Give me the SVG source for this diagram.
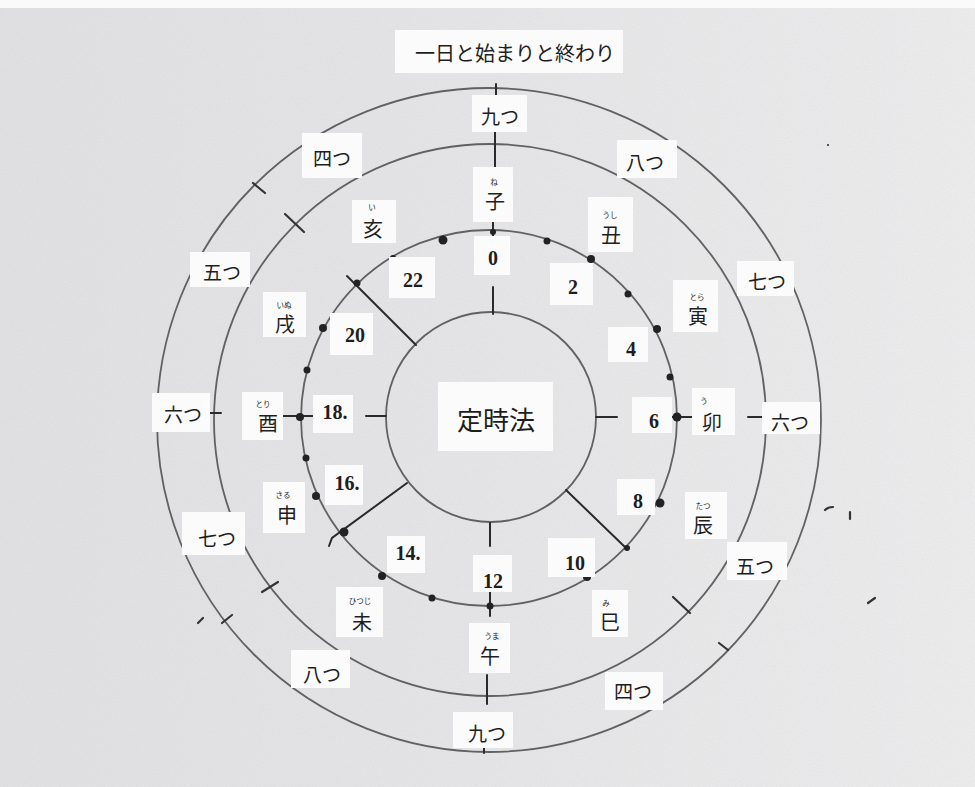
<svg xmlns="http://www.w3.org/2000/svg" width="975" height="787" viewBox="0 0 975 787">
<defs>
<linearGradient id="paper" x1="0" y1="0" x2="1" y2="0">
<stop offset="0" stop-color="#e3e3e5"/>
<stop offset="0.5" stop-color="#e8e8ea"/>
<stop offset="1" stop-color="#efeff0"/>
</linearGradient>
<filter id="noise" x="0" y="0" width="100%" height="100%">
<feTurbulence type="fractalNoise" baseFrequency="0.9" numOctaves="2" seed="3" result="t"/>
<feColorMatrix in="t" type="matrix" values="0 0 0 0 0.45  0 0 0 0 0.45  0 0 0 0 0.47  0 0 0 0.18 0"/>
</filter>
<style>
.ring{fill:none;stroke:#4a4a4c;stroke-width:1.8;opacity:0.85}
.ln{stroke:#2a2a2a;stroke-width:2;fill:none;stroke-linecap:round}
.tk{stroke:#333;stroke-width:2.2;fill:none;stroke-linecap:round}
.dot{fill:#222}
.box{fill:#fbfbfb}
.jp{font-family:"Noto Sans CJK JP","Noto Sans",sans-serif;font-size:19px;fill:#1e1e1e;text-anchor:middle;dominant-baseline:central}
.kj{font-family:"Noto Sans CJK JP","Noto Sans",sans-serif;font-size:20px;fill:#1e1e1e;text-anchor:middle;dominant-baseline:central}
.rb{font-family:"Noto Sans CJK JP","Noto Sans",sans-serif;font-size:7.5px;fill:#1e1e1e;text-anchor:middle;dominant-baseline:central}
.num{font-family:"Liberation Serif",serif;font-weight:bold;font-size:20px;fill:#1e1e1e;text-anchor:middle;dominant-baseline:central}
</style>
</defs>
<rect x="0" y="0" width="975" height="787" fill="url(#paper)"/>
<rect x="0" y="0" width="975" height="787" filter="url(#noise)"/>
<rect x="0" y="0" width="975" height="8" fill="#fafafa"/>

<g id="rings">
<circle class="ring" cx="491" cy="417" r="105"/>
<circle class="ring" cx="489" cy="418" r="188"/>
<circle class="ring" cx="490" cy="420" r="276"/>
<circle class="ring" cx="489" cy="420" r="332"/>
</g>

<g id="connectors">
<line class="ln" x1="496" y1="84" x2="496" y2="96"/>
<line class="ln" x1="495" y1="130" x2="495" y2="168"/>
<line class="ln" x1="493" y1="220" x2="493" y2="236"/>
<line class="ln" x1="493" y1="287" x2="493" y2="314"/>
<line class="ln" x1="596" y1="417" x2="617" y2="417"/>
<line class="ln" x1="670" y1="417" x2="693" y2="417"/>
<line class="ln" x1="748" y1="417" x2="762" y2="417"/>
<line class="ln" x1="366" y1="416" x2="386" y2="416"/>
<line class="ln" x1="283" y1="416" x2="313" y2="416"/>
<line class="ln" x1="210" y1="413" x2="221" y2="413"/>
<line class="ln" x1="490" y1="523" x2="490" y2="546"/>
<line class="ln" x1="490" y1="592" x2="490" y2="616" stroke-width="3"/>
<line class="ln" x1="487" y1="675" x2="487" y2="704"/>
<line class="ln" x1="484" y1="748" x2="484" y2="753"/>
<line class="ln" x1="416" y1="345" x2="347" y2="276"/>
<line class="ln" x1="566" y1="490" x2="627" y2="549"/>
<path class="ln" d="M407 483 L332 538 L329 546"/>
<line class="tk" x1="253" y1="183" x2="265" y2="193"/>
<line class="tk" x1="285" y1="214" x2="304" y2="232"/>
<line class="tk" x1="262" y1="592" x2="278" y2="582"/>
<line class="tk" x1="222" y1="623" x2="232" y2="615"/>
<line class="tk" x1="198" y1="623" x2="203" y2="618" stroke-width="1.5"/>
<line class="tk" x1="673" y1="597" x2="690" y2="613"/>
<line class="tk" x1="719" y1="643" x2="728" y2="650"/>
<path class="tk" d="M825 510 Q828 507 833 507" stroke-width="1.6"/>
<line class="tk" x1="850" y1="512" x2="850" y2="519" stroke-width="1.5"/>
<line class="tk" x1="868" y1="603" x2="875" y2="598" stroke-width="1.5"/>
<circle class="dot" cx="828" cy="145" r="1"/>
</g>

<g id="dots">
<circle class="dot" cx="493" cy="232" r="3"/>
<circle class="dot" cx="443" cy="240" r="4.5"/>
<circle class="dot" cx="547" cy="241" r="3.5"/>
<circle class="dot" cx="591" cy="259" r="4"/>
<circle class="dot" cx="628" cy="294" r="3.5"/>
<circle class="dot" cx="657" cy="329" r="4"/>
<circle class="dot" cx="670" cy="377" r="3.5"/>
<circle class="dot" cx="677" cy="417" r="4.5"/>
<circle class="dot" cx="660" cy="503" r="4.5"/>
<circle class="dot" cx="627" cy="548" r="3"/>
<circle class="dot" cx="587" cy="577" r="4"/>
<circle class="dot" cx="490" cy="606" r="3.5"/>
<circle class="dot" cx="432" cy="598" r="3.5"/>
<circle class="dot" cx="382" cy="576" r="4"/>
<circle class="dot" cx="344" cy="532" r="4.5"/>
<circle class="dot" cx="316" cy="496" r="4"/>
<circle class="dot" cx="306" cy="458" r="3.5"/>
<circle class="dot" cx="300" cy="417" r="4"/>
<circle class="dot" cx="307" cy="370" r="3.5"/>
<circle class="dot" cx="323" cy="328" r="4"/>
<circle class="dot" cx="357" cy="283" r="3.5"/>
<circle class="dot" cx="393" cy="258" r="3"/>
</g>

<g id="title"><rect class="box" x="395" y="30" width="228" height="43"/><text class="jp" x="515" y="52" style="font-size:20px">一日と始まりと終わり</text></g>

<g id="center"><rect class="box" x="438" y="382" width="115" height="69"/><text class="jp" x="496" y="418" style="font-size:26px">定時法</text></g>

<g id="kokonotsu-top"><rect class="box" x="472" y="95" width="55" height="37"/><text class="jp" x="500" y="115">九つ</text></g>
<g id="yatsu-top"><rect class="box" x="617" y="140" width="60" height="38"/><text class="jp" x="645" y="161">八つ</text></g>
<g id="nanatsu-right"><rect class="box" x="737" y="261" width="57" height="35"/><text class="jp" x="767" y="280">七つ</text></g>
<g id="mutsu-right"><rect class="box" x="762" y="402" width="58" height="32"/><text class="jp" x="790" y="421">六つ</text></g>
<g id="itsutsu-right"><rect class="box" x="727" y="542" width="60" height="38"/><text class="jp" x="755" y="565">五つ</text></g>
<g id="yotsu-bottom"><rect class="box" x="605" y="672" width="58" height="38"/><text class="jp" x="633" y="690">四つ</text></g>
<g id="kokonotsu-bottom"><rect class="box" x="453" y="712" width="60" height="36"/><text class="jp" x="487" y="732">九つ</text></g>
<g id="yatsu-bottom"><rect class="box" x="291" y="650" width="59" height="38"/><text class="jp" x="322" y="673">八つ</text></g>
<g id="nanatsu-left"><rect class="box" x="182" y="512" width="63" height="43"/><text class="jp" x="217" y="537">七つ</text></g>
<g id="mutsu-left"><rect class="box" x="152" y="393" width="58" height="39"/><text class="jp" x="183" y="413">六つ</text></g>
<g id="itsutsu-left"><rect class="box" x="190" y="252" width="60" height="35"/><text class="jp" x="222" y="271">五つ</text></g>
<g id="yotsu-top"><rect class="box" x="302" y="133" width="60" height="45"/><text class="jp" x="332" y="157">四つ</text></g>

<g id="ne"><rect class="box" x="473" y="167" width="40" height="55"/><text class="rb" x="494" y="181">ね</text><text class="kj" x="495" y="200">子</text></g>
<g id="ushi"><rect class="box" x="588" y="197" width="45" height="55"/><text class="rb" x="610" y="214">うし</text><text class="kj" x="611" y="234">丑</text></g>
<g id="tora"><rect class="box" x="673" y="280" width="45" height="52"/><text class="rb" x="697" y="296">とら</text><text class="kj" x="698" y="315">寅</text></g>
<g id="u"><rect class="box" x="692" y="388" width="43" height="47"/><text class="rb" x="704" y="400">う</text><text class="kj" x="712" y="421">卯</text></g>
<g id="tatsu"><rect class="box" x="685" y="492" width="42" height="47"/><text class="rb" x="703" y="505">たつ</text><text class="kj" x="703" y="524">辰</text></g>
<g id="mi"><rect class="box" x="592" y="590" width="36" height="47"/><text class="rb" x="606" y="602">み</text><text class="kj" x="610" y="621">巳</text></g>
<g id="uma"><rect class="box" x="469" y="623" width="41" height="50"/><text class="rb" x="492" y="635">うま</text><text class="kj" x="490" y="655">午</text></g>
<g id="hitsuji"><rect class="box" x="336" y="587" width="47" height="50"/><text class="rb" x="360" y="600">ひつじ</text><text class="kj" x="362" y="621">未</text></g>
<g id="saru"><rect class="box" x="263" y="482" width="42" height="51"/><text class="rb" x="283" y="494">さる</text><text class="kj" x="287" y="514">申</text></g>
<g id="tori"><rect class="box" x="242" y="392" width="41" height="48"/><text class="rb" x="263" y="403">とり</text><text class="kj" x="268" y="422">酉</text></g>
<g id="inu"><rect class="box" x="263" y="292" width="43" height="45"/><text class="rb" x="284" y="304">いぬ</text><text class="kj" x="285" y="323">戌</text></g>
<g id="i"><rect class="box" x="352" y="200" width="44" height="43"/><text class="rb" x="372" y="206">い</text><text class="kj" x="373" y="228">亥</text></g>

<g id="h0"><rect class="box" x="474" y="236" width="36" height="39"/><text class="num" x="493" y="258">0</text></g>
<g id="h2"><rect class="box" x="550" y="263" width="43" height="42"/><text class="num" x="573" y="287">2</text></g>
<g id="h4"><rect class="box" x="608" y="327" width="40" height="35"/><text class="num" x="631" y="349">4</text></g>
<g id="h6"><rect class="box" x="632" y="397" width="40" height="36"/><text class="num" x="654" y="421">6</text></g>
<g id="h8"><rect class="box" x="617" y="479" width="38" height="36"/><text class="num" x="638" y="501">8</text></g>
<g id="h10"><rect class="box" x="548" y="538" width="47" height="39"/><text class="num" x="575" y="563">10</text></g>
<g id="h12"><rect class="box" x="473" y="555" width="39" height="37"/><text class="num" x="493" y="581">12</text></g>
<g id="h14"><rect class="box" x="387" y="536" width="38" height="37"/><text class="num" x="408" y="553">14.</text></g>
<g id="h16"><rect class="box" x="325" y="465" width="38" height="40"/><text class="num" x="347" y="483">16.</text></g>
<g id="h18"><rect class="box" x="313" y="395" width="40" height="38"/><text class="num" x="335" y="412">18.</text></g>
<g id="h20"><rect class="box" x="330" y="313" width="43" height="42"/><text class="num" x="355" y="335">20</text></g>
<g id="h22"><rect class="box" x="389" y="257" width="46" height="41"/><text class="num" x="413" y="280">22</text></g>
</svg>
